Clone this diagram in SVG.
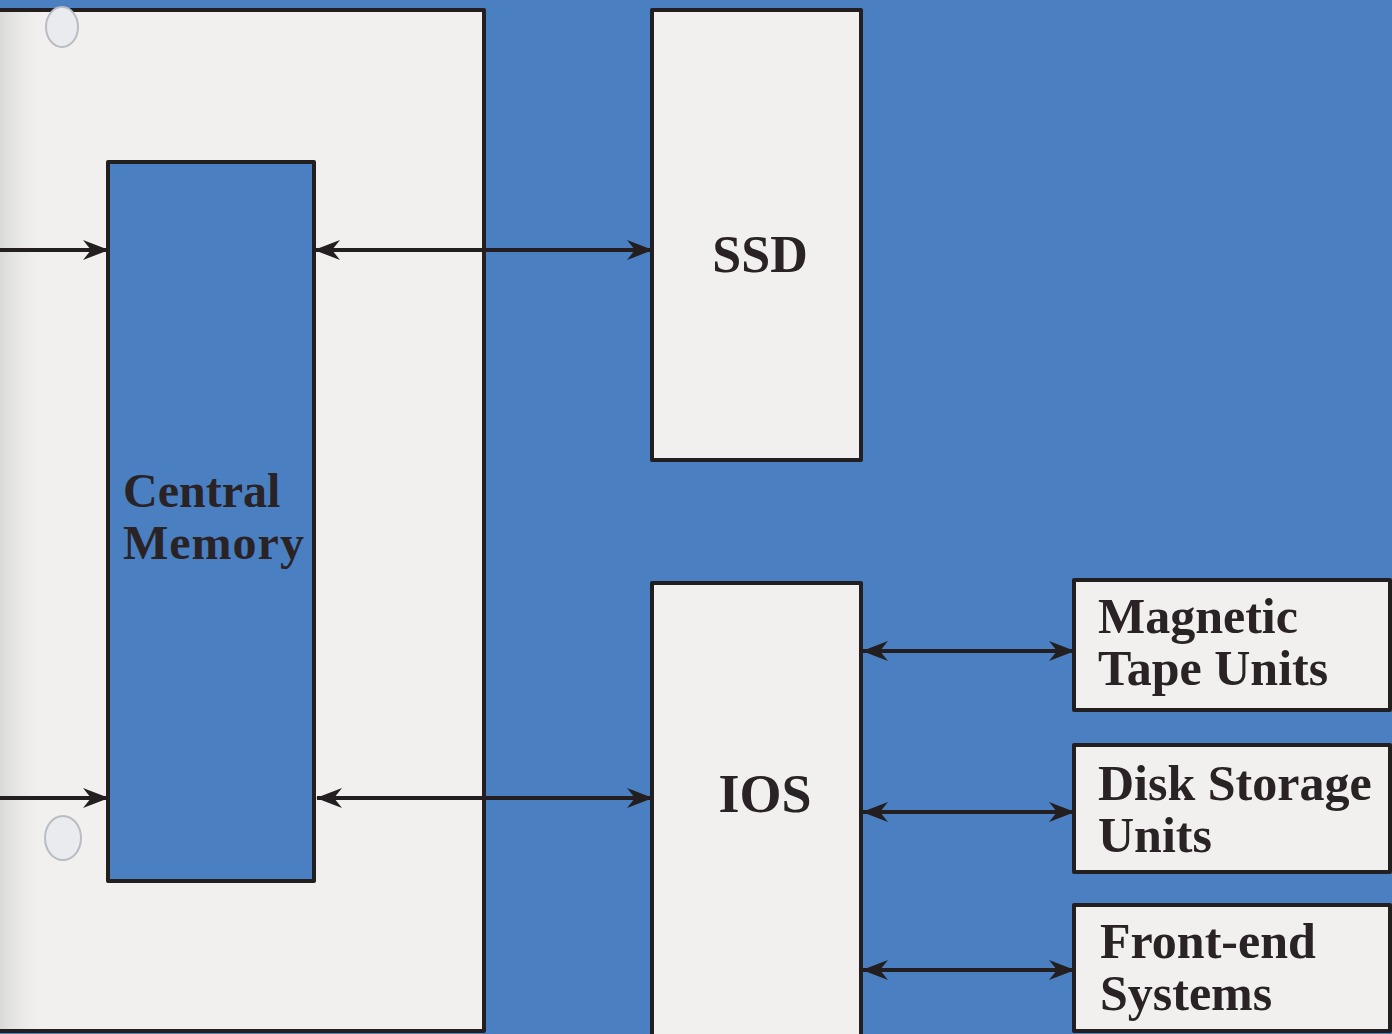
<svg xmlns="http://www.w3.org/2000/svg" width="1392" height="1034" viewBox="0 0 1392 1034">
  <style>
    .box { stroke: #231f20; stroke-width: 4; stroke-linejoin: round; }
    .white { fill: #f1f0ee; }
    .blue { fill: #4a80c2; }
    .lbl { font-family: "Liberation Serif", "Times New Roman", serif; font-weight: bold; fill: #2a2325; }
    .conn { stroke: #231f20; stroke-width: 4; fill: none; }
  </style>
  <defs>
    <marker id="ah" viewBox="0 0 26 20" refX="25" refY="10" markerWidth="26" markerHeight="20" markerUnits="userSpaceOnUse" orient="auto-start-reverse">
      <path d="M26,10 L0,0 L8,10 L0,20 Z" fill="#231f20"/>
    </marker>
    <linearGradient id="fold" x1="0" y1="0" x2="1" y2="0">
      <stop offset="0" stop-color="#d9d9d8"/>
      <stop offset="1" stop-color="#f1f0ee" stop-opacity="0"/>
    </linearGradient>
  </defs>

  <rect x="0" y="0" width="1392" height="1034" fill="#4a80c2"/>

  <g id="page">
    <path d="M-4,10 L484,10 L484,1031 L-4,1031 Z" class="box white"/>
    <rect x="0" y="12" width="48" height="1017" fill="url(#fold)"/>
    <ellipse cx="62" cy="27" rx="16" ry="20" fill="#e9ebee" stroke="#b9bcc2" stroke-width="2"/>
    <ellipse cx="63" cy="838" rx="18" ry="22" fill="#e9ebee" stroke="#b9bcc2" stroke-width="2"/>
  </g>

  <g id="connectors">
    <line x1="0" y1="250" x2="108" y2="250" class="conn" marker-end="url(#ah)"/>
    <line x1="0" y1="798" x2="108" y2="798" class="conn" marker-end="url(#ah)"/>
    <line x1="315" y1="250" x2="652" y2="250" class="conn" marker-start="url(#ah)" marker-end="url(#ah)"/>
    <line x1="317" y1="798" x2="652" y2="798" class="conn" marker-start="url(#ah)" marker-end="url(#ah)"/>
    <line x1="863" y1="651" x2="1074" y2="651" class="conn" marker-start="url(#ah)" marker-end="url(#ah)"/>
    <line x1="863" y1="812" x2="1074" y2="812" class="conn" marker-start="url(#ah)" marker-end="url(#ah)"/>
    <line x1="863" y1="970" x2="1074" y2="970" class="conn" marker-start="url(#ah)" marker-end="url(#ah)"/>
  </g>

  <g id="central-memory">
    <rect x="108" y="162" width="206" height="719" class="box blue"/>
    <text class="lbl" font-size="48"><tspan x="123" y="507">Central</tspan><tspan x="123" y="559" letter-spacing="1">Memory</tspan></text>
  </g>

  <g id="ssd">
    <rect x="652" y="10" width="209" height="450" class="box white"/>
    <text class="lbl" font-size="52" x="760" y="272" text-anchor="middle">SSD</text>
  </g>

  <g id="ios">
    <rect x="652" y="583" width="209" height="460" class="box white"/>
    <text class="lbl" font-size="54" x="765" y="812" text-anchor="middle">IOS</text>
  </g>

  <g id="magnetic-tape-units">
    <rect x="1074" y="580" width="316" height="130" class="box white"/>
    <text class="lbl" font-size="50"><tspan x="1098" y="633">Magnetic</tspan><tspan x="1098" y="685">Tape Units</tspan></text>
  </g>

  <g id="disk-storage-units">
    <rect x="1074" y="745" width="316" height="127" class="box white"/>
    <text class="lbl" font-size="50"><tspan x="1098" y="800">Disk Storage</tspan><tspan x="1098" y="852">Units</tspan></text>
  </g>

  <g id="front-end-systems">
    <rect x="1074" y="905" width="316" height="126" class="box white"/>
    <text class="lbl" font-size="50"><tspan x="1100" y="958">Front-end</tspan><tspan x="1100" y="1010">Systems</tspan></text>
  </g>
</svg>
